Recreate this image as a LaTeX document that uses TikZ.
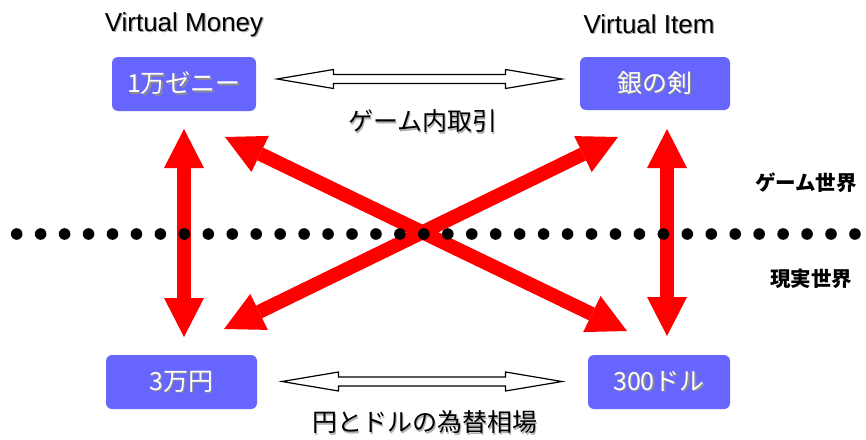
\documentclass[tikz,border=0pt]{standalone}
\usepackage{fontspec}
\setmainfont{Liberation Sans}
\newfontfamily\jp{Noto Sans CJK JP}
\usetikzlibrary{arrows.meta,calc}
\definecolor{boxblue}{HTML}{6666FF}
\definecolor{redarr}{HTML}{FF0000}
\newcommand{\shtxt}[3]{\makebox[0pt][l]{\hspace{1.2pt}\raisebox{-1.2pt}{\color{#2}#3}}{\color{#1}#3}}
\tikzset{
  itembox/.style={fill=boxblue, rounded corners=6pt, inner sep=0pt, font=\jp\fontsize{25}{28}\selectfont},
  title/.style={inner sep=0pt, font=\fontsize{26}{30}\selectfont},
  jplabel/.style={inner sep=0pt, font=\jp\fontsize{25}{28}\selectfont},
  worldlabel/.style={inner sep=0pt, font=\jp\bfseries\fontsize{20.5}{24}\selectfont},
  redarrow/.style={draw=redarr, line width=14pt,
     {Triangle[width=40pt,length=39pt,line width=0pt]}-{Triangle[width=40pt,length=39pt,line width=0pt]}},
  dblarr/.style={draw=black, line width=1.2pt, fill=white, line join=miter},
  dot/.style={fill=black}
}
\newcommand{\dblarrow}[2]{% center, total length
  \draw[dblarr] ($(#1)+(-#2/2,0)$) -- ++(56.5,-9.5) -- ++(0,5) -- ++(#2-113,0) -- ++(0,-5)
    -- ++(56.5,9.5) -- ++(-56.5,9.5) -- ++(0,-5) -- ++(-#2+113,0) -- ++(0,5) -- cycle;}
\begin{document}
\begin{tikzpicture}[x=1pt,y=-1pt]
\useasboundingbox (0,0) rectangle (866,439);
\fill[white] (0,0) rectangle (866,439);

% titles
\node[title] (tmoney) at (184,25) {\shtxt{black}{black!30}{Virtual Money}};
\node[title] (titem) at (649,25) {\shtxt{black}{black!30}{Virtual Item}};

% boxes
\node[itembox, minimum width=144pt, minimum height=54pt] (zeny) at (184,84) {\shtxt{white}{black!45}{1万ゼニー}};
\node[itembox, minimum width=150pt, minimum height=53pt] (sword) at (655,83.5) {\shtxt{white}{black!45}{銀の剣}};
\node[itembox, minimum width=151pt, minimum height=54pt] (yen) at (181.5,382) {\shtxt{white}{black!45}{3万円}};
\node[itembox, minimum width=142pt, minimum height=54pt] (dollar) at (659,382) {\shtxt{white}{black!45}{300ドル}};

% labels
\node[jplabel] (game) at (423,122) {\shtxt{black}{black!30}{ゲーム内取引}};
\node[jplabel] (fx) at (425,423) {\shtxt{black}{black!30}{円とドルの為替相場}};
\node[worldlabel] (gworld) at (806,183) {ゲーム世界};
\node[worldlabel] (rworld) at (811,279) {現実世界};

% double arrows
\coordinate (topc) at (419.5,79);
\coordinate (botc) at (422,381.5);
\dblarrow{topc}{285}
\dblarrow{botc}{280}

% red arrow endpoints
\coordinate (lvt) at (184,129);
\coordinate (lvb) at (184,337);
\coordinate (rvt) at (667,129);
\coordinate (rvb) at (667,336);
\coordinate (d1a) at (225,137);
\coordinate (d1b) at (627,331);
\coordinate (d2a) at (224,329);
\coordinate (d2b) at (618,137);

\draw[redarrow] (lvt) -- (lvb);
\draw[redarrow] (rvt) -- (rvb);
\draw[redarrow] (d1a) -- (d1b);
\draw[redarrow] (d2a) -- (d2b);

% dotted boundary
\foreach \i in {0,...,35} \fill[dot] (16.7+\i*23.95,234) circle (5.8pt);
\end{tikzpicture}
\end{document}
